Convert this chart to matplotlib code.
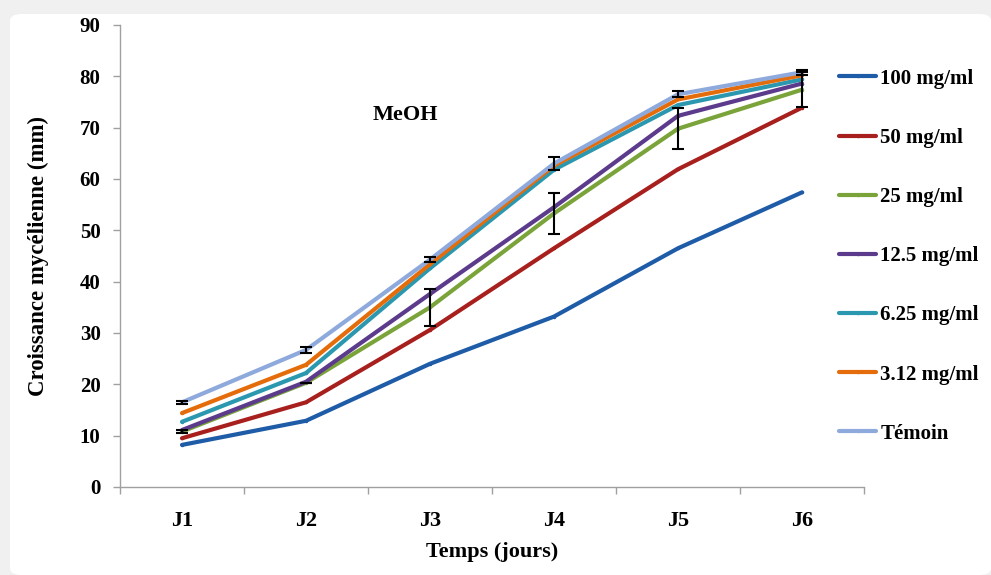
import matplotlib.pyplot as plt
from matplotlib.patches import FancyBboxPatch
import numpy as np

days = ['J1', 'J2', 'J3', 'J4', 'J5', 'J6']
series_names = ['100 mg/ml', '50 mg/ml', '25 mg/ml', '12.5 mg/ml', '6.25 mg/ml', '3.12 mg/ml', 'Témoin']
colors = ['#1f5ca8', '#a8201e', '#7aa33a', '#5c3b8c', '#2b98b0', '#e46c0a', '#8ea9db']

v100 = [8.2, 12.9, 24.0, 33.2, 46.5, 57.4]
v50 = [9.5, 16.5, 30.6, 46.5, 61.9, 73.9]
v25 = [10.8, 20.3, 35.0, 53.3, 69.8, 77.4]
v12 = [11.1, 20.5, 37.6, 54.5, 72.3, 78.6]
v6 = [12.7, 22.2, 42.6, 61.8, 74.4, 79.4]
v3 = [14.4, 23.8, 43.4, 62.6, 75.5, 80.2]
vtem = [16.5, 26.7, 44.3, 63.0, 76.5, 80.8]

err25 = [0.3, 0.0, 3.6, 4.0, 4.0, 3.4]
errtem = [0.3, 0.5, 0.5, 1.3, 0.6, 0.5]

values = [v100, v50, v25, v12, v6, v3, vtem]

plt.rcParams['font.family'] = ['Liberation Serif', 'DejaVu Serif']
plt.rcParams['font.weight'] = 'bold'

fig = plt.figure(figsize=(9.91, 5.75), dpi=100)
fig.patch.set_facecolor('#f0f0f0')
fig.patches.append(FancyBboxPatch((10 / 991, 0), 1 - 10 / 991, 1 - 14 / 575,
                                  boxstyle='round,pad=0,rounding_size=0.012',
                                  transform=fig.transFigure, facecolor='white',
                                  edgecolor='none', zorder=-5))
ax = fig.add_axes([120 / 991, 1 - 487 / 575, 744 / 991, 462 / 575])
ax.set_facecolor('none')

x = np.arange(1, len(days) + 1)
for name, vals, c in zip(series_names, values, colors):
    ax.plot(x, vals, color=c, lw=3, solid_capstyle='round', label=name,
            marker='.', markersize=3)

ax.errorbar(x, v25, yerr=err25, fmt='none', ecolor='black', elinewidth=1.5, capsize=4, capthick=1.5)
ax.errorbar(x, vtem, yerr=errtem, fmt='none', ecolor='black', elinewidth=1.5, capsize=4, capthick=1.5)

ax.set_xlim(0.5, 6.5)
ax.set_ylim(0, 90)
ax.set_yticks(range(0, 91, 10))
ax.set_xticks(x)
ax.set_xticklabels(days)
ax.set_xticks(np.arange(0.5, 6.6, 1), minor=True)
ax.tick_params(axis='x', which='major', length=0, pad=17, labelsize=16)
ax.tick_params(axis='x', which='minor', length=5, color='#a0a0a0', width=1)
ax.tick_params(axis='y', length=5, color='#a0a0a0', width=1, labelsize=15, pad=9)
for s in ['top', 'right']:
    ax.spines[s].set_visible(False)
for s in ['left', 'bottom']:
    ax.spines[s].set_color('#a0a0a0')
    ax.spines[s].set_linewidth(1)

ax.set_xlabel('Temps (jours)', fontsize=16, fontweight='bold', labelpad=8)
ax.set_ylabel('Croissance mycélienne (mm)', fontsize=16.5, fontweight='bold', labelpad=22)
ax.text(2.8, 72.5, 'MeOH', fontsize=16, fontweight='bold', ha='center', va='center')

leg = ax.legend(loc='upper left', bbox_to_anchor=(820 / 991, 1 - 50 / 575),
                bbox_transform=fig.transFigure, frameon=False, fontsize=15,
                labelspacing=1.88, handlelength=1.8, handletextpad=0.2)

fig.savefig('out.png', dpi=100, facecolor=fig.get_facecolor())
